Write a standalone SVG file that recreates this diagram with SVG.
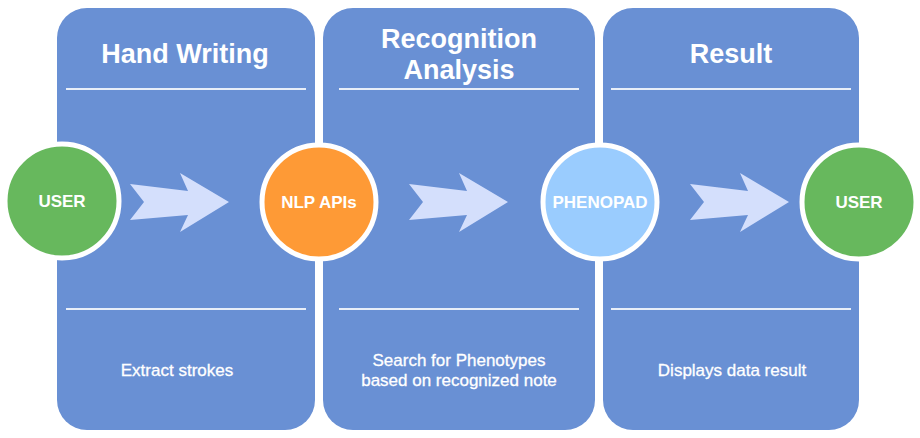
<svg xmlns="http://www.w3.org/2000/svg" width="920" height="438" viewBox="0 0 920 438">
<defs>
<style>
.panel{fill:#6990D4;}
.sep{stroke:#E8EEF8;stroke-width:2;}
.title{font-family:"Liberation Sans",Arial,sans-serif;font-weight:bold;font-size:27px;fill:#FFFFFF;text-anchor:middle;}
.desc{font-family:"Liberation Sans",Arial,sans-serif;font-size:17px;fill:#FFFFFF;stroke:#FFFFFF;stroke-width:0.3;text-anchor:middle;}
.node{stroke:#FFFFFF;stroke-width:5;}
.label{font-family:"Liberation Sans",Arial,sans-serif;font-weight:bold;font-size:17px;fill:#FFFFFF;text-anchor:middle;}
.arrow{fill:#D4DFFC;}
</style>
<path id="arrowShape" d="M130,184 L188,191 L180,173 L229,202 L180,232 L188,215 L130,220 L144,202 Z"/>
</defs>
<rect width="920" height="438" fill="#FFFFFF"/>

<g id="panel-handwriting">
<rect class="panel" x="57" y="8" width="258" height="422" rx="30" ry="30"/>
<text class="title" x="185" y="63">Hand Writing</text>
<line class="sep" x1="66" y1="89" x2="306" y2="89"/>
<line class="sep" x1="66" y1="309" x2="306" y2="309"/>
<text class="desc" x="177" y="376">Extract strokes</text>
</g>

<g id="panel-recognition">
<rect class="panel" x="323" y="8" width="272" height="422" rx="30" ry="30"/>
<text class="title" x="459" y="48">Recognition</text>
<text class="title" x="459" y="79">Analysis</text>
<line class="sep" x1="339" y1="89" x2="579" y2="89"/>
<line class="sep" x1="339" y1="309" x2="579" y2="309"/>
<text class="desc" x="459" y="366">Search for Phenotypes</text>
<text class="desc" x="459" y="386">based on recognized note</text>
</g>

<g id="panel-result">
<rect class="panel" x="603" y="8" width="256" height="422" rx="30" ry="30"/>
<text class="title" x="731" y="63">Result</text>
<line class="sep" x1="611" y1="89" x2="851" y2="89"/>
<line class="sep" x1="611" y1="309" x2="851" y2="309"/>
<text class="desc" x="732" y="376">Displays data result</text>
</g>

<g id="connectors">
<use href="#arrowShape" class="arrow"/>
<use href="#arrowShape" class="arrow" transform="translate(279,0)"/>
<use href="#arrowShape" class="arrow" transform="translate(560,0)"/>
</g>

<g id="node-user-start">
<circle class="node" cx="62" cy="201" r="57" fill="#67B85D"/>
<text class="label" x="62" y="207">USER</text>
</g>

<g id="node-nlp">
<circle class="node" cx="319" cy="202" r="57" fill="#FE9A36"/>
<text class="label" x="319" y="208">NLP APIs</text>
</g>

<g id="node-phenopad">
<circle class="node" cx="600" cy="202" r="57" fill="#9ACCFE"/>
<text class="label" x="600" y="208">PHENOPAD</text>
</g>

<g id="node-user-end">
<circle class="node" cx="859" cy="202" r="57" fill="#67B85D"/>
<text class="label" x="859" y="208">USER</text>
</g>
</svg>
